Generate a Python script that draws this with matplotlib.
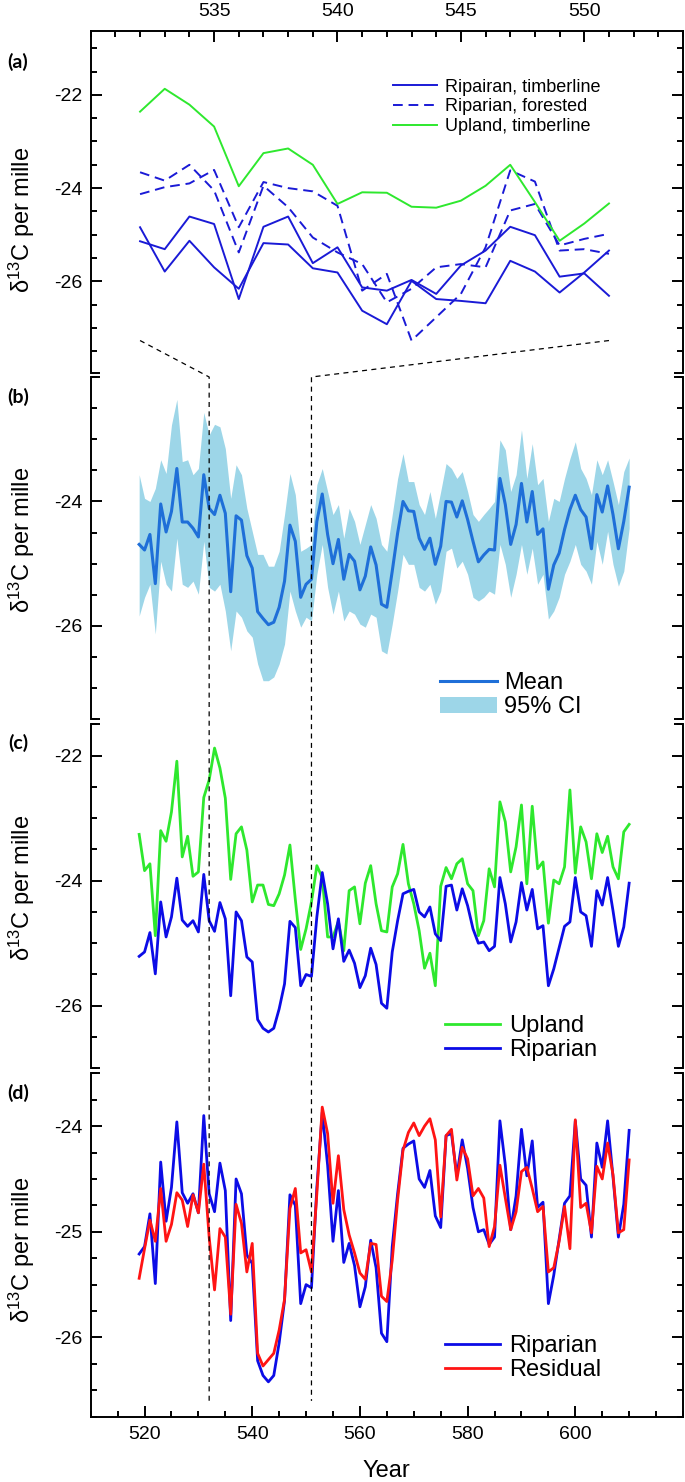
import numpy as np
import matplotlib
matplotlib.use("Agg")
import matplotlib.pyplot as plt
from matplotlib.lines import Line2D
from matplotlib.patches import Patch
from matplotlib.ticker import MultipleLocator

plt.rcParams['font.family'] = ['Liberation Sans', 'DejaVu Sans']
plt.rcParams['mathtext.fontset'] = 'custom'
plt.rcParams['mathtext.rm'] = 'Liberation Sans'
plt.rcParams['mathtext.default'] = 'regular'
plt.rcParams['axes.unicode_minus'] = False

# ---------------- data ----------------
years_a = np.arange(532, 552)
upland_timberline = [-22.36, -21.87, -22.21, -22.68, -23.96, -23.25, -23.15, -23.50, -24.34, -24.09,
                     -24.10, -24.40, -24.42, -24.27, -23.95, -23.50, -24.30, -25.13, -24.76, -24.33]
rip_timberline_1 = [-24.84, -25.79, -25.13, -25.70, -26.16, -25.18, -25.21, -25.72, -25.81, -26.63,
                    -26.92, -25.99, -26.38, -26.42, -26.47, -25.56, -25.79, -26.24, -25.81, -25.34]
rip_timberline_2 = [-25.14, -25.31, -24.61, -24.77, -26.38, -24.83, -24.61, -25.61, -25.27, -26.13,
                    -26.20, -25.97, -26.27, -25.66, -25.34, -24.83, -25.01, -25.90, -25.83, -26.31]
rip_forested_1 = [-23.66, -23.84, -23.50, -24.05, -25.38, -23.95, -24.41, -25.06, -25.38, -25.63,
                  -26.45, -26.16, -25.70, -25.63, -25.70, -24.48, -24.34, -25.23, -25.09, -24.98]
rip_forested_2 = [-24.13, -23.98, -23.90, -23.61, -24.84, -23.87, -24.00, -24.07, -24.38, -26.20,
                  -25.84, -27.27, -26.77, -26.27, -25.27, -23.62, -23.86, -25.34, -25.31, -25.41]

years = np.arange(519, 611)
mean = [-24.69, -24.78, -24.53, -25.32, -24.04, -24.49, -24.16, -23.47, -24.33, -24.33,
        -24.43, -24.57, -23.57, -24.11, -24.21, -23.90, -24.19, -25.45, -24.23, -24.30,
        -24.87, -25.07, -25.77, -25.88, -25.98, -25.94, -25.70, -25.28, -24.38, -24.64,
        -25.54, -25.33, -25.25, -24.32, -23.88, -24.53, -25.00, -24.61, -25.25, -24.85,
        -24.96, -25.42, -25.20, -24.73, -25.02, -25.65, -25.70, -25.12, -24.51, -24.00,
        -24.15, -24.16, -24.59, -24.77, -24.59, -25.01, -24.72, -24.00, -24.01, -24.25,
        -23.99, -24.29, -24.64, -24.97, -24.86, -24.77, -24.78, -23.63, -24.05, -24.69,
        -24.37, -23.71, -24.33, -23.84, -24.53, -24.44, -25.41, -25.02, -24.83, -24.45,
        -24.13, -23.90, -24.13, -24.25, -24.76, -23.89, -24.17, -23.75, -24.21, -24.76,
        -24.32, -23.77]
ci_upper = [-23.57, -23.95, -24.00, -23.79, -23.33, -23.55, -22.77, -22.36, -23.36, -23.33,
            -23.57, -23.47, -22.57, -22.93, -22.76, -22.80, -23.15, -23.95, -23.41, -23.57,
            -24.11, -24.48, -24.85, -24.85, -25.04, -25.04, -24.80, -24.21, -23.55, -23.89,
            -24.80, -24.75, -24.69, -23.73, -23.47, -23.84, -24.21, -24.05, -24.59, -24.11,
            -24.32, -24.69, -24.37, -24.05, -24.27, -24.69, -24.80, -24.21, -23.63, -23.23,
            -23.68, -23.68, -24.05, -24.21, -23.84, -24.27, -23.84, -23.39, -23.47, -23.63,
            -23.52, -23.84, -24.21, -24.32, -24.21, -24.11, -24.00, -23.01, -23.17, -23.84,
            -23.57, -22.85, -23.63, -23.07, -23.73, -23.63, -24.32, -23.95, -24.00, -23.63,
            -23.31, -23.04, -23.47, -23.63, -23.89, -23.33, -23.57, -23.33, -23.68, -24.05,
            -23.52, -23.30]
ci_lower = [-25.84, -25.54, -25.33, -26.13, -24.96, -25.33, -25.44, -24.59, -25.33, -25.38,
            -25.28, -25.49, -24.64, -25.38, -25.44, -25.33, -25.76, -26.40, -25.76, -25.86,
            -26.08, -26.18, -26.61, -26.88, -26.88, -26.82, -26.61, -26.29, -25.44, -25.76,
            -26.02, -25.86, -25.92, -25.17, -24.69, -25.38, -25.81, -25.44, -25.92, -25.76,
            -25.81, -25.97, -26.02, -25.81, -25.86, -26.40, -26.45, -25.97, -25.44, -24.85,
            -25.01, -25.01, -25.38, -25.44, -25.33, -25.65, -25.44, -24.80, -24.75, -25.07,
            -24.96, -25.17, -25.54, -25.60, -25.54, -25.44, -25.49, -24.69, -25.01, -25.54,
            -25.17, -24.69, -25.17, -24.75, -25.33, -25.17, -25.89, -25.76, -25.54, -25.17,
            -24.96, -24.69, -25.01, -25.12, -25.33, -24.64, -25.01, -24.48, -25.01, -25.36,
            -25.12, -24.43]
upland = [-23.26, -23.84, -23.73, -24.88, -23.20, -23.37, -22.90, -22.09, -23.62, -23.29,
          -23.93, -23.86, -22.67, -22.39, -21.88, -22.20, -22.68, -23.98, -23.25, -23.14,
          -23.51, -24.34, -24.07, -24.07, -24.38, -24.40, -24.21, -23.91, -23.43, -24.30,
          -25.10, -24.77, -24.34, -23.76, -23.95, -24.90, -24.90, -24.65, -25.12, -24.16,
          -24.10, -24.69, -24.04, -23.76, -24.37, -24.80, -24.82, -24.10, -23.89, -23.42,
          -24.05, -24.37, -24.80, -25.40, -25.16, -25.68, -24.09, -23.79, -23.97, -23.73,
          -23.65, -24.05, -24.16, -24.88, -24.64, -23.81, -24.10, -22.74, -23.06, -23.86,
          -23.46, -22.79, -24.05, -22.81, -23.81, -23.70, -24.68, -23.99, -24.05, -23.78,
          -22.55, -23.88, -23.14, -23.38, -23.97, -23.25, -23.55, -23.29, -23.78, -23.97,
          -23.22, -23.10]
riparian = [-25.21, -25.14, -24.83, -25.49, -24.34, -24.90, -24.58, -23.96, -24.63, -24.73,
            -24.64, -24.82, -23.90, -24.64, -24.81, -24.35, -24.61, -25.84, -24.50, -24.64,
            -25.22, -25.30, -26.22, -26.36, -26.42, -26.36, -26.05, -25.65, -24.65, -24.75,
            -25.68, -25.50, -25.53, -24.58, -23.87, -24.37, -25.09, -24.61, -25.29, -25.11,
            -25.32, -25.71, -25.52, -25.08, -25.34, -25.96, -26.04, -25.14, -24.64, -24.21,
            -24.17, -24.14, -24.50, -24.58, -24.42, -24.85, -24.96, -24.09, -24.07, -24.47,
            -24.13, -24.40, -24.77, -25.00, -24.98, -25.12, -25.05, -23.95, -24.37, -24.98,
            -24.66, -24.03, -24.47, -24.14, -24.77, -24.72, -25.68, -25.41, -25.07, -24.73,
            -24.66, -23.95, -24.50, -24.56, -25.05, -24.16, -24.39, -23.95, -24.48, -25.05,
            -24.74, -24.04]
residual = [-25.44, -25.16, -24.89, -25.09, -24.59, -25.09, -24.93, -24.63, -24.70, -24.95,
            -24.65, -24.82, -24.36, -25.05, -25.55, -24.97, -25.05, -25.78, -24.74, -24.92,
            -25.38, -25.11, -26.15, -26.27, -26.21, -26.15, -25.93, -25.64, -24.78, -24.59,
            -25.20, -25.17, -25.38, -24.64, -23.82, -24.07, -24.73, -24.28, -24.79, -25.03,
            -25.20, -25.39, -25.45, -25.11, -25.12, -25.61, -25.66, -25.27, -24.70, -24.23,
            -24.06, -23.97, -24.09, -24.00, -23.93, -24.13, -24.86, -24.09, -24.03, -24.51,
            -24.20, -24.31, -24.66, -24.59, -24.68, -25.14, -24.95, -24.37, -24.68, -24.98,
            -24.81, -24.43, -24.39, -24.59, -24.81, -24.76, -25.38, -25.34, -25.09, -24.76,
            -25.16, -23.94, -24.77, -24.73, -25.01, -24.38, -24.50, -24.16, -24.46, -25.01,
            -24.98, -24.32]

zoom_years = [532, 551]

# ---------------- styles ----------------
W, H = 685, 1482
BLUE_A = '#1a1ad6'
BLUE = '#0c0ce6'
GREEN = '#2ee82e'
RED = '#ff1414'
MEAN_C = '#1f6fd8'
CI_C = '#9dd6e8'
TICK_FS = 14
LEG_FS = 17
SPINE_LW = 1.4

fig = plt.figure(figsize=(W / 100, H / 100), dpi=100)

def fx(px):
    return px / W

def fy(py):
    return 1 - py / H

def add_panel(top, bottom):
    return fig.add_axes([fx(90.7), fy(bottom), fx(683) - fx(90.7), (bottom - top) / H])

ax_a = add_panel(31, 372.7)
ax_b = add_panel(377, 719.3)
ax_c = add_panel(724.3, 1068.3)
ax_d = add_panel(1073.3, 1416.7)

def style(ax, top_spine, bottom_spine, caps_top, caps_bottom):
    for s in ax.spines.values():
        s.set_linewidth(SPINE_LW)
    ax.spines['top'].set_visible(top_spine)
    ax.spines['bottom'].set_visible(bottom_spine)
    ax.tick_params(axis='y', which='both', direction='in', left=True, right=True,
                   width=SPINE_LW, labelsize=TICK_FS, pad=6)
    ax.tick_params(axis='y', which='major', length=8)
    ax.tick_params(axis='y', which='minor', length=4.5)
    cap = 9 / (683 - 90.7)
    for yy, on in ((1, caps_top), (0, caps_bottom)):
        if on:
            for xs in ((0, cap), (1 - cap, 1)):
                ax.add_line(Line2D(xs, [yy, yy], transform=ax.transAxes, color='black',
                                   lw=SPINE_LW, clip_on=False, solid_capstyle='butt'))

# ---- panel a ----
ax_a.plot(years_a, rip_timberline_1, color=BLUE_A, lw=1.4, label='Ripairan, timberline')
ax_a.plot(years_a, rip_timberline_2, color=BLUE_A, lw=1.4)
ax_a.plot(years_a, rip_forested_1, color=BLUE_A, lw=1.4, dashes=(5, 3), label='Riparian, forested')
ax_a.plot(years_a, rip_forested_2, color=BLUE_A, lw=1.4, dashes=(5, 3))
ax_a.plot(years_a, upland_timberline, color=GREEN, lw=1.4, label='Upland, timberline')
ax_a.set_xlim(530, 554)
ax_a.set_ylim(-27.96, -20.63)
ax_a.xaxis.tick_top()
ax_a.set_xticks([535, 540, 545, 550])
ax_a.xaxis.set_minor_locator(MultipleLocator(1))
ax_a.tick_params(axis='x', which='both', direction='in', top=True, bottom=False,
                 labeltop=True, labelbottom=False, width=SPINE_LW, labelsize=TICK_FS, pad=8)
ax_a.tick_params(axis='x', which='major', length=8)
ax_a.tick_params(axis='x', which='minor', length=4.5)
ax_a.set_yticks([-22, -24, -26])
ax_a.yaxis.set_minor_locator(MultipleLocator(0.5))
style(ax_a, True, False, False, True)
h = ax_a.get_legend_handles_labels()
ax_a.legend(*h, loc='center left', bbox_to_anchor=(fx(393), fy(107)), bbox_transform=fig.transFigure,
            frameon=False, fontsize=13, handlelength=2.42, handletextpad=0.45,
            labelspacing=0.15, borderpad=0, borderaxespad=0)

# ---- panel b ----
ax_b.fill_between(years, ci_lower, ci_upper, color=CI_C, lw=0, label='95% CI')
ax_b.plot(years, mean, color=MEAN_C, lw=2.2, label='Mean')
ax_b.set_xlim(510, 620)
ax_b.set_ylim(-27.5, -22)
ax_b.set_yticks([-24, -26])
ax_b.yaxis.set_minor_locator(MultipleLocator(0.5))
ax_b.tick_params(axis='x', which='both', bottom=False, top=False, labelbottom=False)
style(ax_b, False, False, True, True)
hb = [Line2D([], [], color=MEAN_C, lw=2.2), Patch(color=CI_C, lw=0)]
ax_b.legend(hb, ['Mean', '95% CI'], loc='center left', bbox_to_anchor=(fx(440), fy(695)),
            bbox_transform=fig.transFigure, frameon=False, fontsize=LEG_FS,
            handlelength=2.4, handletextpad=0.3, labelspacing=0.1, borderpad=0, borderaxespad=0)

# ---- panel c ----
ax_c.plot(years, upland, color=GREEN, lw=2.0, label='Upland')
ax_c.plot(years, riparian, color=BLUE, lw=2.0, label='Riparian')
ax_c.set_xlim(510, 620)
ax_c.set_ylim(-27, -21.5)
ax_c.set_yticks([-22, -24, -26])
ax_c.yaxis.set_minor_locator(MultipleLocator(0.5))
ax_c.tick_params(axis='x', which='both', bottom=False, top=False, labelbottom=False)
style(ax_c, False, False, True, True)
ax_c.legend(loc='center left', bbox_to_anchor=(fx(445), fy(1038)),
            bbox_transform=fig.transFigure, frameon=False, fontsize=LEG_FS,
            handlelength=2.33, handletextpad=0.38, labelspacing=0.1, borderpad=0, borderaxespad=0)

# ---- panel d ----
ax_d.plot(years, riparian, color=BLUE, lw=2.0, label='Riparian')
ax_d.plot(years, residual, color=RED, lw=2.0, label='Residual')
ax_d.set_xlim(510, 620)
ax_d.set_ylim(-26.75, -23.5)
ax_d.set_yticks([-24, -25, -26])
ax_d.yaxis.set_minor_locator(MultipleLocator(0.25))
ax_d.set_xticks([520, 540, 560, 580, 600])
ax_d.xaxis.set_minor_locator(MultipleLocator(5))
ax_d.tick_params(axis='x', which='both', direction='in', bottom=True, top=False,
                 width=SPINE_LW, labelsize=TICK_FS, pad=7)
ax_d.tick_params(axis='x', which='major', length=8)
ax_d.tick_params(axis='x', which='minor', length=4.5)
ax_d.set_xlabel('Year', fontsize=LEG_FS, labelpad=12)
style(ax_d, False, True, True, False)
ax_d.legend(loc='center left', bbox_to_anchor=(fx(445), fy(1358)),
            bbox_transform=fig.transFigure, frameon=False, fontsize=LEG_FS,
            handlelength=2.33, handletextpad=0.38, labelspacing=0.1, borderpad=0, borderaxespad=0)

# ---- y labels & panel letters ----
for yc in (220, 540, 888, 1250):
    fig.text(fx(22), fy(yc), 'δ$^{13}$C per mille', rotation=90, ha='center', va='center', fontsize=17)
for lab, yc in (('(a)', 62), ('(b)', 397), ('(c)', 743), ('(d)', 1093)):
    fig.text(fx(18), fy(yc), lab, ha='center', va='center', fontsize=14, fontweight='bold',
             family=['Lato', 'DejaVu Sans'])

# ---- dashed connectors ----
inv = fig.transFigure.inverted()

def to_fig(ax, x, y):
    return inv.transform(ax.transData.transform((x, y)))

y_start = -27.27
for yr in zoom_years:
    p1 = to_fig(ax_a, yr, y_start)
    p2 = to_fig(ax_b, yr, -22)
    p3 = to_fig(ax_d, yr, -26.6)
    fig.add_artist(Line2D([p1[0], p2[0], p3[0]], [p1[1], p2[1], p3[1]], transform=fig.transFigure,
                          color='black', lw=0.9, dashes=(4, 3.5), zorder=10))

fig.savefig('out.png', dpi=100)
